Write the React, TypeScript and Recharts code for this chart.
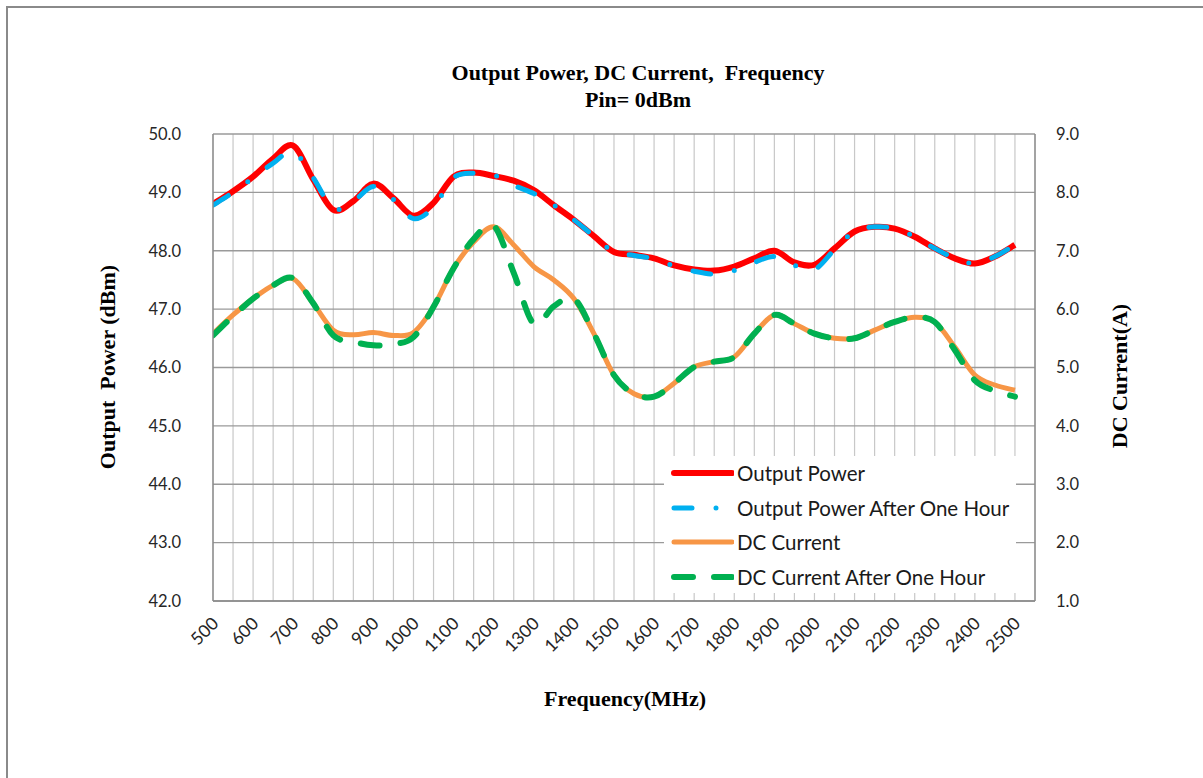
import React from 'react';
import { LineChart, Line, XAxis, YAxis, CartesianGrid } from 'recharts';

const frequencies = [
  500, 550, 600, 650, 700, 750, 800, 850, 900, 950, 1000, 1050, 1100, 1150, 1200, 1250, 1300, 1350, 1400, 1450,
  1500, 1550, 1600, 1650, 1700, 1750, 1800, 1850, 1900, 1950, 2000, 2050, 2100, 2150, 2200, 2250, 2300, 2350, 2400,
  2450, 2500,
];

const outputPower = [
  48.8, 49.02, 49.27, 49.58, 49.8, 49.22, 48.7, 48.85, 49.15, 48.9, 48.6, 48.82, 49.27, 49.34, 49.28, 49.2, 49.04,
  48.78, 48.53, 48.25, 47.98, 47.93, 47.87, 47.75, 47.68, 47.66, 47.73, 47.87, 48.0, 47.8, 47.76, 48.04, 48.33,
  48.41, 48.38, 48.24, 48.04, 47.87, 47.78, 47.9, 48.1,
];

const outputPowerAfterHour = [
  48.78, 49.0, 49.25, 49.5, 49.7, 49.25, 48.72, 48.85, 49.1, 48.88, 48.55, 48.75, 49.25, 49.33, 49.3, 49.12, 48.98,
  48.78, 48.53, 48.25, 47.98, 47.92, 47.86, 47.74, 47.65, 47.6, 47.66, 47.8, 47.9, 47.75, 47.68, 48.02, 48.33,
  48.41, 48.38, 48.24, 48.04, 47.87, 47.78, 47.9, 48.1,
];

const dcCurrent = [
  5.58, 5.9, 6.18, 6.41, 6.52, 6.1, 5.64, 5.56, 5.6, 5.55, 5.6, 6.04, 6.7, 7.15, 7.41, 7.1, 6.73, 6.5, 6.18, 5.58,
  4.87, 4.55, 4.5, 4.73, 5.01, 5.1, 5.18, 5.58, 5.9, 5.75, 5.58, 5.5, 5.5, 5.64, 5.78, 5.86, 5.78, 5.35, 4.87, 4.7,
  4.61,
];

const dcCurrentAfterHour = [
  5.55, 5.88, 6.18, 6.41, 6.53, 6.1, 5.55, 5.44, 5.38, 5.4, 5.52, 6.04, 6.7, 7.2, 7.43, 6.62, 5.75, 6.05, 6.18, 5.58,
  4.87, 4.55, 4.5, 4.73, 5.01, 5.1, 5.18, 5.58, 5.9, 5.75, 5.58, 5.5, 5.5, 5.64, 5.78, 5.86, 5.78, 5.3, 4.78, 4.6,
  4.5,
];

const xGridTicks = [
  500, 550, 600, 650, 700, 750, 800, 850, 900, 950, 1000, 1050, 1100, 1150, 1200, 1250, 1300, 1350, 1400, 1450,
  1500, 1550, 1600, 1650, 1700, 1750, 1800, 1850, 1900, 1950, 2000, 2050, 2100, 2150, 2200, 2250, 2300, 2350, 2400,
  2450, 2500, 2550,
];
const xLabelTicks = [
  500, 600, 700, 800, 900, 1000, 1100, 1200, 1300, 1400, 1500, 1600, 1700, 1800, 1900, 2000, 2100, 2200, 2300, 2400,
  2500,
];
const leftTicks = [42, 43, 44, 45, 46, 47, 48, 49, 50];
const rightTicks = [1, 2, 3, 4, 5, 6, 7, 8, 9];

const seriesNames = ['Output Power', 'Output Power After One Hour', 'DC Current', 'DC Current After One Hour'];

const data = frequencies.map((f, i) => ({
  f,
  op: outputPower[i],
  op1: outputPowerAfterHour[i],
  dc: dcCurrent[i],
  dc1: dcCurrentAfterHour[i],
}));

const RED = '#FF0000';
const BLUE = '#00B0F0';
const ORANGE = '#F79646';
const GREEN = '#00B050';
const BLUE_DASH = '18 24 0 24';
const GREEN_DASH = '19 21';

const sansFont = 'Lato, "Liberation Sans", sans-serif';
const serifFont = '"Liberation Serif", "DejaVu Serif", serif';

// Excel-like smoothed line (uniform Catmull-Rom through each point)
function smoothCurve(context: any) {
  let pts: number[][] = [];
  return {
    areaStart() {},
    areaEnd() {},
    lineStart() {
      pts = [];
    },
    point(x: number, y: number) {
      pts.push([+x, +y]);
    },
    lineEnd() {
      const n = pts.length;
      if (!n) return;
      context.moveTo(pts[0][0], pts[0][1]);
      if (n === 1) {
        context.lineTo(pts[0][0], pts[0][1]);
        return;
      }
      for (let i = 0; i < n - 1; i++) {
        const p0 = pts[i - 1] || pts[i];
        const p1 = pts[i];
        const p2 = pts[i + 1];
        const p3 = pts[i + 2] || p2;
        context.bezierCurveTo(
          p1[0] + (p2[0] - p0[0]) / 6,
          p1[1] + (p2[1] - p0[1]) / 6,
          p2[0] - (p3[0] - p1[0]) / 6,
          p2[1] - (p3[1] - p1[1]) / 6,
          p2[0],
          p2[1]
        );
      }
    },
  };
}

const XTick = (props: any) => {
  const { x, y, payload } = props;
  if (!xLabelTicks.includes(payload.value)) return <g />;
  const ax = x - 3;
  const ay = y + 6;
  return (
    <text
      x={ax}
      y={ay}
      transform={`rotate(-45, ${ax}, ${ay})`}
      textAnchor="end"
      dominantBaseline="hanging"
      fontFamily={sansFont}
      fontSize={17.5}
      fill="#262626"
    >
      {payload.value}
    </text>
  );
};

const LegendBox = () => {
  const rows = [
    { name: seriesNames[0], color: RED, dash: undefined, w: 6 },
    { name: seriesNames[1], color: BLUE, dash: BLUE_DASH, w: 5 },
    { name: seriesNames[2], color: ORANGE, dash: undefined, w: 5 },
    { name: seriesNames[3], color: GREEN, dash: GREEN_DASH, w: 6 },
  ];
  return (
    <div
      style={{
        position: 'absolute',
        left: 664,
        top: 456,
        width: 352,
        height: 137,
        background: '#fff',
      }}
    >
      {rows.map((r, i) => (
        <div
          key={r.name}
          style={{ position: 'absolute', left: 0, top: i * 34.5, height: 34, width: 352 }}
        >
          <svg width={70} height={34} style={{ position: 'absolute', left: 0, top: 0 }}>
            <line
              x1={10}
              x2={68}
              y1={17}
              y2={17}
              stroke={r.color}
              strokeWidth={r.w}
              strokeDasharray={r.dash}
              strokeLinecap="round"
            />
          </svg>
          <span
            style={{
              position: 'absolute',
              left: 73,
              top: 0,
              lineHeight: '34px',
              fontFamily: sansFont,
              fontSize: 20.5,
              color: '#1a1a1a',
              whiteSpace: 'nowrap',
            }}
          >
            {r.name}
          </span>
        </div>
      ))}
    </div>
  );
};

const serifLabel = {
  fontFamily: serifFont,
  fontWeight: 'bold' as const,
  fontSize: 22,
  color: '#000',
  whiteSpace: 'nowrap' as const,
};

export default function App() {
  return (
    <div
      style={{
        position: 'absolute',
        left: 0,
        top: 0,
        width: 1203,
        height: 778,
        background: '#fff',
        overflow: 'hidden',
      }}
    >
      <div
        style={{
          position: 'absolute',
          left: 6,
          top: 6,
          width: 1400,
          height: 1000,
          borderLeft: '2px solid #8a8a8a',
          borderTop: '2px solid #8a8a8a',
        }}
      />
      <div style={{ position: 'absolute', left: 0, top: 0 }}>
        <LineChart
          width={1203}
          height={778}
          data={data}
          margin={{ top: 134, right: 108, left: 153, bottom: 117 }}
        >
          <CartesianGrid yAxisId="left" vertical={true} horizontal={false} stroke="#c8c8c8" strokeWidth={1.2} />
          <CartesianGrid yAxisId="left" vertical={false} horizontal={true} stroke="#9a9a9a" strokeWidth={1.4} />
          <XAxis
            dataKey="f"
            type="number"
            domain={[500, 2550]}
            ticks={xGridTicks}
            interval={0}
            tick={<XTick />}
            tickLine={false}
            axisLine={{ stroke: '#8a8a8a', strokeWidth: 1.4 }}
            height={60}
            allowDataOverflow
          />
          <YAxis
            yAxisId="left"
            domain={[42, 50]}
            ticks={leftTicks}
            tickFormatter={(v: number) => v.toFixed(1)}
            tick={{ fontFamily: sansFont, fontSize: 16.5, fill: '#262626' }}
            tickLine={false}
            tickMargin={26}
            axisLine={{ stroke: '#8a8a8a', strokeWidth: 1.4 }}
            width={60}
            interval={0}
          />
          <YAxis
            yAxisId="right"
            orientation="right"
            domain={[1, 9]}
            ticks={rightTicks}
            tickFormatter={(v: number) => v.toFixed(1)}
            tick={{ fontFamily: sansFont, fontSize: 16.5, fill: '#262626' }}
            tickLine={false}
            tickMargin={15}
            axisLine={{ stroke: '#8a8a8a', strokeWidth: 1.4 }}
            width={60}
            interval={0}
          />
          <Line
            yAxisId="right"
            dataKey="dc"
            name={seriesNames[2]}
            type={smoothCurve as any}
            stroke={ORANGE}
            strokeWidth={5}
            dot={false}
            activeDot={false}
            isAnimationActive={false}
          />
          <Line
            yAxisId="right"
            dataKey="dc1"
            name={seriesNames[3]}
            type={smoothCurve as any}
            stroke={GREEN}
            strokeWidth={6}
            strokeDasharray={GREEN_DASH}
            strokeLinecap="round"
            dot={false}
            activeDot={false}
            isAnimationActive={false}
          />
          <Line
            yAxisId="left"
            dataKey="op"
            name={seriesNames[0]}
            type={smoothCurve as any}
            stroke={RED}
            strokeWidth={6}
            dot={false}
            activeDot={false}
            isAnimationActive={false}
          />
          <Line
            yAxisId="left"
            dataKey="op1"
            name={seriesNames[1]}
            type={smoothCurve as any}
            stroke={BLUE}
            strokeWidth={5}
            strokeDasharray={BLUE_DASH}
            strokeLinecap="round"
            dot={false}
            activeDot={false}
            isAnimationActive={false}
          />
        </LineChart>
      </div>
      <LegendBox />
      <div
        style={{
          ...serifLabel,
          position: 'absolute',
          left: 338,
          width: 600,
          top: 59,
          textAlign: 'center',
          lineHeight: '27px',
        }}
      >
        <div>Output Power, DC Current,&nbsp; Frequency</div>
        <div>Pin= 0dBm</div>
      </div>
      <div
        style={{
          ...serifLabel,
          position: 'absolute',
          left: 108 - 150,
          top: 367 - 13,
          width: 300,
          height: 26,
          lineHeight: '26px',
          textAlign: 'center',
          transform: 'rotate(-90deg)',
        }}
      >
        Output&nbsp; Power (dBm)
      </div>
      <div
        style={{
          ...serifLabel,
          position: 'absolute',
          left: 1120 - 150,
          top: 376 - 13,
          width: 300,
          height: 26,
          lineHeight: '26px',
          textAlign: 'center',
          transform: 'rotate(-90deg)',
        }}
      >
        DC Current(A)
      </div>
      <div
        style={{
          ...serifLabel,
          position: 'absolute',
          left: 325,
          top: 686,
          width: 600,
          lineHeight: '26px',
          textAlign: 'center',
        }}
      >
        Frequency(MHz)
      </div>
    </div>
  );
}
